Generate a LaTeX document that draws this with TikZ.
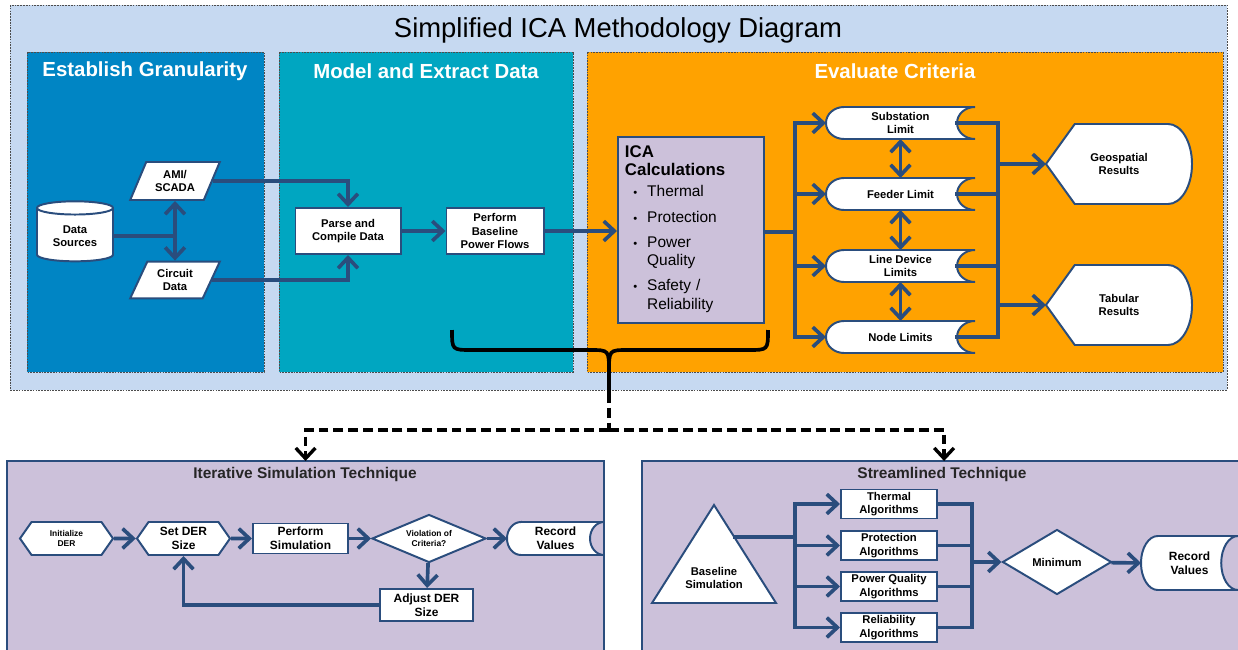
\documentclass[tikz,border=0pt]{standalone}
\usepackage{fontspec}
\setmainfont{Liberation Sans}
\usetikzlibrary{positioning,shapes.geometric,shapes.symbols,arrows.meta,backgrounds}
\definecolor{paneblue}{HTML}{C6D9F1}
\definecolor{granblue}{HTML}{0085C4}
\definecolor{modteal}{HTML}{00A6C1}
\definecolor{evalorange}{HTML}{FFA200}
\definecolor{lav}{HTML}{CCC1DA}
\definecolor{icanavy}{HTML}{2A4D7D}
\begin{document}
\begin{tikzpicture}[
  x=0.025cm,y=-0.025cm,
  >={Straight Barb[length=7.5pt,width=14pt]},
  panel/.style={draw=black!70, line width=0.6pt, dash pattern=on 1.2pt off 0.8pt},
  tech/.style={draw=icanavy, line width=1.4pt, fill=lav, inner sep=0pt, outer sep=0pt},
  head/.style={text=white, font=\bfseries\fontsize{14.5}{16}\selectfont},
  techhead/.style={text=black!85, font=\bfseries\fontsize{11}{13}\selectfont},
  box/.style={draw=icanavy, line width=1.4pt, fill=white, align=center, inner sep=1pt, font=\bfseries\fontsize{8}{9.5}\selectfont},
  shp/.style={draw=icanavy, line width=1.4pt, fill=white},
  stor/.style={align=center, inner sep=0pt, outer sep=0pt, font=\bfseries\fontsize{8}{9.5}\selectfont},
  arrow/.style={->, line width=2.6pt, icanavy},
  link/.style={line width=2.6pt, icanavy, line cap=rect},
  dasharrow/.style={->, line width=2.4pt, black, dash pattern=on 7pt off 3.5pt}
]
\useasboundingbox (0,0) rectangle (1238,650);

% frames
\begin{scope}[on background layer]
\draw[panel, fill=paneblue] (10,5) rectangle (1227,390);
\draw[panel, fill=granblue] (27,52) rectangle (264,372);
\draw[panel, fill=modteal] (279,52) rectangle (573,372);
\draw[panel, fill=evalorange] (587,52) rectangle (1223,372);
\node[tech, minimum width=14.925cm, minimum height=4.85cm, anchor=north west] (iterP) at (7,461) {};
\node[tech, minimum width=15.1cm, minimum height=4.85cm, anchor=north west] (strP) at (642,461) {};
\end{scope}

\node (title) at (618,30) {\fontsize{19.5}{22}\selectfont Simplified ICA Methodology Diagram};
\node[head] (granT) at (145,71) {Establish Granularity};
\node[head] (modT) at (426,71) {Model and Extract Data};
\node[head] (evalT) at (895,71) {Evaluate Criteria};

% establish granularity
\node[box, cylinder, shape border rotate=90, aspect=0.28, minimum width=1.9cm, minimum height=1.5cm] (ds) at (75,236) {Data\\Sources};
\node[box, trapezium, trapezium left angle=64, trapezium right angle=116, trapezium stretches=true, minimum width=2.25cm, minimum height=0.95cm] (ami) at (175,181) {AMI/\\SCADA};
\node[box, trapezium, trapezium left angle=64, trapezium right angle=116, trapezium stretches=true, minimum width=2.25cm, minimum height=0.92cm] (cir) at (175,280) {Circuit\\Data};
\draw[link] (ds.east) -- (ds.east -| ami.south);
\draw[arrow, <->] (ami.south) -- (cir.north);

% model and extract data
\node[box, minimum width=2.625cm, minimum height=1.15cm] (parse) at (348,231) {Parse and\\Compile Data};
\node[box, minimum width=2.425cm, minimum height=1.15cm] (perf) at (495,231) {Perform\\Baseline\\Power Flows};
\draw[arrow] (ami.east) -| (parse.north);
\draw[arrow] (cir.east) -| (parse.south);
\draw[arrow] (parse) -- (perf);

% evaluate criteria
\node[box, fill=lav, minimum width=3.65cm, minimum height=4.65cm, text width=3.3cm, align=left, font=\fontsize{11}{13}\selectfont] (ica) at (691,230) {%
{\bfseries\fontsize{12}{14.5}\selectfont ICA\\Calculations}\\[5pt]
\begin{tabular}{@{\hspace{6pt}}l@{\hspace{7pt}}l}
{\fontsize{8}{9}\selectfont\textbullet} & Thermal\\[5pt]
{\fontsize{8}{9}\selectfont\textbullet} & Protection\\[5pt]
{\fontsize{8}{9}\selectfont\textbullet} & Power\\
 & Quality\\[5pt]
{\fontsize{8}{9}\selectfont\textbullet} & Safety /\\
 & Reliability
\end{tabular}};
\draw[arrow] (perf) -- (perf -| ica.west);

\node[stor, minimum width=3.725cm, minimum height=0.8cm] (sub) at (900.5,123) {Substation\\Limit};
\node[stor, minimum width=3.725cm, minimum height=0.8cm] (fdr) at (900.5,194) {Feeder Limit};
\node[stor, minimum width=3.725cm, minimum height=0.8cm] (ldv) at (900.5,266) {Line Device\\Limits};
\node[stor, minimum width=3.725cm, minimum height=0.8cm] (nod) at (900.5,337) {Node Limits};
\node[stor, minimum width=3.65cm, minimum height=2cm] (geo) at (1119,164) {Geospatial\\Results};
\node[stor, minimum width=3.65cm, minimum height=2cm] (tab) at (1119,305) {Tabular\\Results};

\coordinate (busL) at (795,232);
\coordinate (busR) at (998,232);
\draw[link] (ica.east |- busL) -- (busL);
\draw[link] (busL |- sub) -- (busL |- nod);
\foreach \k in {sub,fdr,ldv,nod} \draw[arrow] (busL |- \k) -- (\k.west);
\foreach \k in {sub,fdr,ldv,nod} \draw[link] ([xshift=-0.45cm]\k.east) -- (busR |- \k);
\draw[link] (busR |- sub) -- (busR |- nod);
\draw[arrow, <->] (sub.south) -- (fdr.north);
\draw[arrow, <->] (fdr.south) -- (ldv.north);
\draw[arrow, <->] (ldv.south) -- (nod.north);
\draw[arrow] (busR |- geo) -- (geo.west);
\draw[arrow] (busR |- tab) -- (tab.west);

% brace and dashed split
\coordinate (tip) at (609,372);
\coordinate (gap) at (609,393);
\coordinate (split) at (609,430);
\draw[line width=2.6pt] (452,330) .. controls (452,350) .. (472,350) -- (590,350) .. controls (609,350) .. (tip) .. controls (609,350) .. (628,350) -- (748,350) .. controls (768,350) .. (768,330);
\draw[line width=2.6pt] (tip) -- (gap);
\draw[line width=2.4pt, dash pattern=on 7pt off 3.5pt] (gap) -- (split);
\draw[dasharrow] (split) -| (iterP.north);
\draw[dasharrow] (split) -| (strP.north);

% iterative simulation technique
\node[techhead] (iterT) at (305,474) {Iterative Simulation Technique};
\node[box, signal, signal to=west and east, signal pointer angle=110, minimum width=2.325cm, minimum height=0.825cm, font=\bfseries\fontsize{6}{7}\selectfont] (ini) at (66.5,538.5) {Initialize\\DER};
\node[box, signal, signal to=west and east, signal pointer angle=110, minimum width=2.325cm, minimum height=0.825cm, font=\bfseries\fontsize{8.5}{10}\selectfont] (setd) at (183.5,538.5) {Set DER\\Size};
\node[box, minimum width=2.375cm, minimum height=0.75cm, font=\bfseries\fontsize{8.5}{10}\selectfont] (psim) at (300.5,538.5) {Perform\\Simulation};
\node[box, diamond, aspect=2.4, inner sep=0pt, minimum width=2.85cm, minimum height=1.2cm, font=\bfseries\fontsize{6}{7}\selectfont] (viol) at (429,538.5) {Violation of\\Criteria?};
\node[stor, minimum width=2.425cm, minimum height=0.825cm, font=\bfseries\fontsize{8.5}{10}\selectfont] (recA) at (555.5,538.5) {Record\\Values};
\node[box, minimum width=2.325cm, minimum height=0.8cm, font=\bfseries\fontsize{8.5}{10}\selectfont] (adj) at (426.5,605) {Adjust DER\\Size};
\draw[arrow] (ini) -- (setd);
\draw[arrow] (setd) -- (psim);
\draw[arrow] (psim) -- (viol);
\draw[arrow] (viol) -- (recA.west);
\draw[arrow] (viol) -- (adj);
\draw[arrow] (adj.west) -| (setd.south);

% streamlined technique
\node[techhead] (strT) at (942,474) {Streamlined Technique};
\draw[shp] (714,505) -- (776,603) -- (652,603) -- cycle;
\node[stor] (bsim) at (714,578) {Baseline\\Simulation};
\coordinate (triR) at (735,537);
\node[box, minimum width=2.4cm, minimum height=0.725cm] (thm) at (889,504) {Thermal\\Algorithms};
\node[box, minimum width=2.4cm, minimum height=0.725cm] (prt) at (889,545.5) {Protection\\Algorithms};
\node[box, minimum width=2.4cm, minimum height=0.725cm] (pq) at (889,586.5) {Power Quality\\Algorithms};
\node[box, minimum width=2.4cm, minimum height=0.725cm] (rel) at (889,627.5) {Reliability\\Algorithms};
\node[box, diamond, aspect=1.7, inner sep=0pt, minimum width=2.725cm, minimum height=1.625cm] (minn) at (1057,562) {Minimum};
\node[stor, minimum width=2.425cm, minimum height=1.35cm, font=\bfseries\fontsize{8.5}{10}\selectfont] (recB) at (1189.5,563) {Record\\Values};
\coordinate (busA) at (795,537);
\coordinate (busB) at (972,562);
\draw[link] (triR) -- (busA);
\draw[link] (busA |- thm) -- (busA |- rel);
\foreach \k in {thm,prt,pq,rel} \draw[arrow] (busA |- \k) -- (\k.west);
\foreach \k in {thm,prt,pq,rel} \draw[link] (\k.east) -- (busB |- \k);
\draw[link] (busB |- thm) -- (busB |- rel);
\draw[arrow] (busB) -- (minn.west);
\draw[arrow] (minn) -- (recB.west);

% outlines behind the text
\begin{scope}[on background layer]
\foreach \k/\rx/\ry in {sub/0.45cm/0.4cm, fdr/0.45cm/0.4cm, ldv/0.45cm/0.4cm, nod/0.45cm/0.4cm, recA/0.35cm/0.4125cm, recB/0.42cm/0.675cm}
  \draw[shp] ([xshift=\rx]\k.north west) -- (\k.north east) arc[start angle=90, end angle=270, x radius=\rx, y radius=\ry] -- ([xshift=\rx]\k.south west) arc[start angle=270, end angle=90, x radius=\rx, y radius=\ry] -- cycle;
\foreach \k in {geo,tab}
  \draw[shp] (\k.west) -- ([xshift=0.72cm]\k.north west) -- ([xshift=-0.6cm]\k.north east) arc[start angle=90, end angle=-90, x radius=0.6cm, y radius=1cm] -- ([xshift=0.72cm]\k.south west) -- cycle;
\end{scope}
\end{tikzpicture}
\end{document}
